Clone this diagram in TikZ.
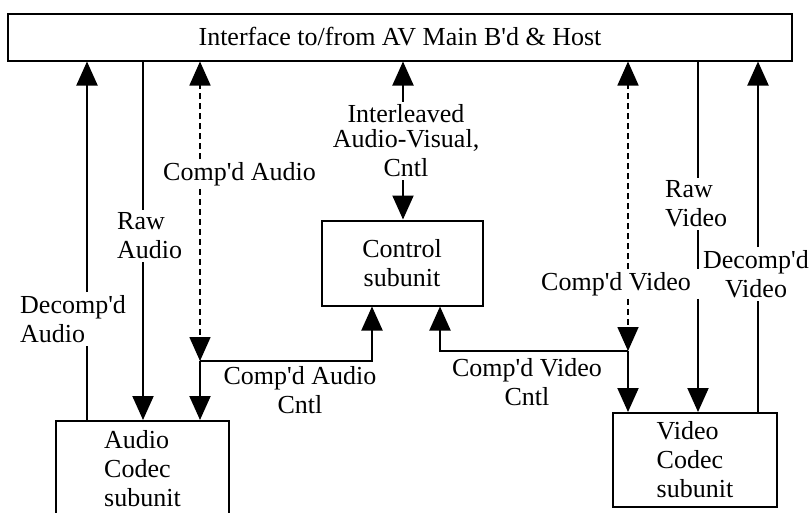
\documentclass[tikz,border=0pt]{standalone}
\usepackage{fontspec}
\setmainfont{Liberation Serif}
\usetikzlibrary{arrows.meta}
\tikzstyle{boxes} = [rectangle, draw=black, line width=2pt, inner sep=0pt]
\tikzstyle{lbl} = [inner sep=3pt]
\tikzstyle{wire} = [line width=2pt]
\tikzstyle{arrow} = [line width=2pt, -{Triangle[length=24pt,width=21pt]}]
\tikzstyle{dashline} = [line width=1.6pt, dash pattern=on 6pt off 4pt]
\newcommand{\ap}{\textquotesingle}

\begin{document}
\begin{tikzpicture}[x=1pt, y=-1pt, font=\fontsize{26}{29}\selectfont]

    \clip (0,0) rectangle (810,512);

    \node (iface) [boxes, minimum width=784pt, minimum height=47pt] at (400,37) {Interface to/from AV Main B\ap d \& Host};

    \node (ctrl) [boxes, minimum width=161pt, minimum height=85pt, align=center] at (402,263) {Control\\subunit};

    \node (acodec) [boxes, minimum width=173pt, minimum height=96pt, align=left] at (142.5,469) {Audio\\Codec\\subunit};

    \node (vcodec) [boxes, minimum width=164pt, minimum height=94pt, align=left] at (695,460) {Video\\Codec\\subunit};

    \node (dau) [lbl, align=left, anchor=west] at (17,319) {Decomp\ap d\\Audio};
    \node (rau) [lbl, align=left, anchor=west] at (114,236) {Raw\\Audio};
    \node (cau) [lbl, anchor=west] at (160,174) {Comp\ap d Audio};
    \node (cauc) [lbl, align=center] at (300,390) {Comp\ap d Audio\\Cntl};
    \node (ilv) [lbl, align=center] at (406,141) {Interleaved\\[-4pt]Audio-Visual,\\Cntl};
    \node (cvid) [lbl, anchor=west] at (538,284) {Comp\ap d Video};
    \node (cvidc) [lbl, align=center] at (527,382) {Comp\ap d Video\\Cntl};
    \node (rvid) [lbl, align=left, anchor=west] at (662,204) {Raw\\Video};
    \node (dvid) [lbl, align=center] at (756,274) {Decomp\ap d\\Video};

    \coordinate (xdau) at (87,0);
    \coordinate (xrau) at (143,0);
    \coordinate (xcau) at (200,0);
    \coordinate (xcac) at (372,0);
    \coordinate (xilv) at (403,0);
    \coordinate (xcvc) at (440,0);
    \coordinate (xcvid) at (628,0);
    \coordinate (xrvid) at (698,0);
    \coordinate (xdvid) at (758,0);
    \coordinate (ja) at (200,361);
    \coordinate (jv) at (628,351);

    \draw[wire] (acodec.north -| xdau) -- (dau.south -| xdau);
    \draw[arrow] (dau.north -| xdau) -- (iface.south -| xdau);
    \draw[wire] (iface.south -| xrau) -- (rau.north -| xrau);
    \draw[arrow] (rau.south -| xrau) -- (acodec.north -| xrau);
    \draw[arrow, dashline] (cau.north -| xcau) -- (iface.south -| xcau);
    \draw[arrow, dashline] (cau.south -| xcau) -- (ja);
    \draw[arrow] (ja) -- (acodec.north -| xcau);
    \draw[arrow] (ja) -| (ctrl.south -| xcac);

    \draw[arrow] (ilv.north -| xilv) -- (iface.south -| xilv);
    \draw[arrow] (ilv.south -| xilv) -- (ctrl.north -| xilv);

    \draw[arrow, dashline] (cvid.north -| xcvid) -- (iface.south -| xcvid);
    \draw[arrow, dashline] (cvid.south -| xcvid) -- (jv);
    \draw[arrow] (jv) -- (vcodec.north -| xcvid);
    \draw[arrow] (jv) -| (ctrl.south -| xcvc);
    \draw[wire] (iface.south -| xrvid) -- (rvid.north -| xrvid);
    \draw[wire] (rvid.south -| xrvid) -- (cvid.north -| xrvid);
    \draw[arrow] (cvid.south -| xrvid) -- (vcodec.north -| xrvid);
    \draw[wire] (vcodec.north -| xdvid) -- (dvid.south -| xdvid);
    \draw[arrow] (dvid.north -| xdvid) -- (iface.south -| xdvid);

\end{tikzpicture}
\end{document}
